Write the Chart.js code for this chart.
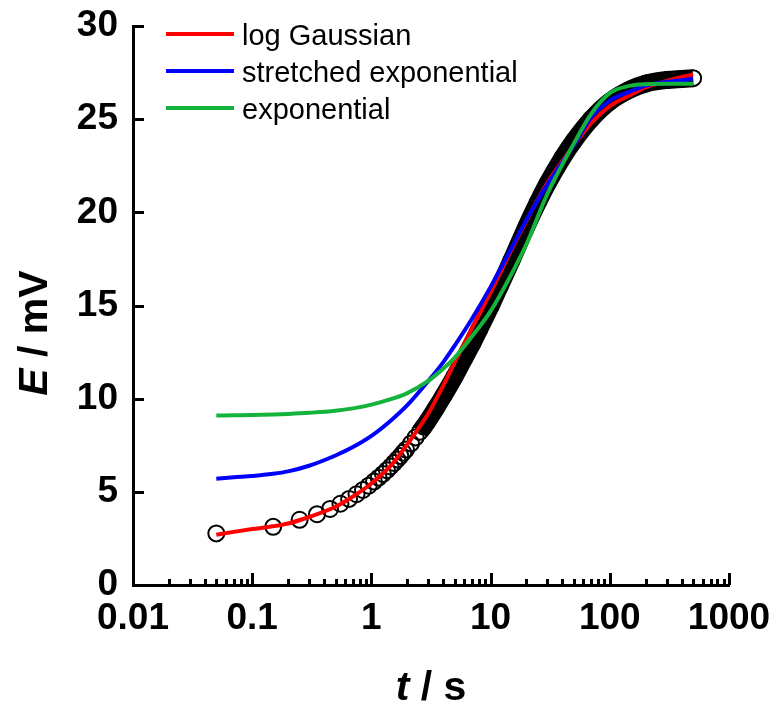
<!DOCTYPE html>
<html>
<head>
<meta charset="utf-8">
<script src="https://cdn.jsdelivr.net/npm/chart.js@4.4.1/dist/chart.umd.min.js"></script>
<style>
html,body{margin:0;padding:0;background:#fff;}
#wrap{width:776px;height:703px;}
</style>
</head>
<body>
<div id="wrap"><canvas id="myChart" width="776" height="703"></canvas></div>
<script>
// measured transient, t in s, E in mV
var tData = [0.05,0.15,0.25,0.35,0.45,0.55,0.65,0.75,0.85,0.95,1.05,1.15,1.25,1.35,1.45,1.55,1.65,1.75,1.85,1.95,
	2.15,2.35,2.55,2.75,2.95,3.5,4,5,6,7,8,10,12,15,20,25,30,40,50,70,100,150,200,300,400,500];
var eData = [2.77,3.12,3.5,3.8,4.08,4.36,4.62,4.87,5.1,5.33,5.55,5.76,5.96,6.16,6.36,6.55,6.74,6.92,7.1,7.27,
	7.6,7.92,8.22,8.5,8.78,9.52,10.13,11.2,12.15,12.95,13.7,14.96,16.07,17.43,19.24,20.55,21.54,22.92,23.84,25.01,25.94,26.61,26.91,27.1,27.16,27.2];

// fits
var tFit = [0.05,0.07,0.1,0.15,0.2,0.3,0.5,0.7,1,1.5,2,3,4,5,7,10,15,20,30,50,70,100,150,200,300,500];
var eLogGauss = [2.7,2.85,3.0,3.15,3.3,3.65,4.2,4.75,5.45,6.5,7.55,9.2,10.7,11.95,13.8,15.7,18.0,19.55,21.6,23.6,24.8,25.7,26.3,26.7,27.05,27.4];
var eStretched = [5.7,5.78,5.85,5.97,6.1,6.4,6.95,7.4,8.0,8.9,9.65,10.95,11.95,12.85,14.3,16.0,18.1,19.6,21.5,23.6,25.1,26.0,26.5,26.8,27.0,27.15];
var eExp = [9.1,9.11,9.12,9.15,9.18,9.24,9.35,9.48,9.68,10.0,10.3,10.95,11.6,12.2,13.35,14.7,16.7,18.3,21.0,23.7,25.3,26.4,26.8,26.88,26.9,26.9];

var xTicks = [0.01,0.02,0.03,0.04,0.05,0.06,0.07,0.08,0.09,0.1,0.2,0.3,0.4,0.5,0.6,0.7,0.8,0.9,1,2,3,4,5,6,7,8,9,
	10,20,30,40,50,60,70,80,90,100,200,300,400,500,600,700,800,900,1000];
var xLabels = [0.01,0.1,1,10,100,1000];

var FONT = "'Liberation Sans', Arial, sans-serif";

function pts(xs, ys) {
	var out = [];
	for (var i = 0; i < xs.length; i++) out.push({x: xs[i], y: ys[i]});
	return out;
}

var extras = {
	id: 'extras',
	afterDraw: function(chart) {
		var ctx = chart.ctx, a = chart.chartArea;
		var xs = chart.scales.x, ys = chart.scales.y;
		ctx.save();
		// inward ticks
		ctx.strokeStyle = '#000';
		ctx.lineWidth = 3;
		ys.ticks.forEach(function(t) {
			var py = Math.round(ys.getPixelForValue(t.value)) + 0.5;
			var len = (t.value % 5 === 0) ? 11 : 6;
			ctx.beginPath(); ctx.moveTo(a.left, py); ctx.lineTo(a.left + len, py); ctx.stroke();
		});
		xs.ticks.forEach(function(t) {
			var px = Math.round(xs.getPixelForValue(t.value)) + 0.5;
			var len = (xLabels.indexOf(t.value) >= 0) ? 12 : 6;
			ctx.beginPath(); ctx.moveTo(px, a.bottom); ctx.lineTo(px, a.bottom - len); ctx.stroke();
		});

		// axis titles
		ctx.fillStyle = '#000';
		ctx.textBaseline = 'alphabetic';
		ctx.textAlign = 'left';
		var it = 'italic bold 41px ' + FONT, bd = 'bold 41px ' + FONT;
		function mixed(parts, cx, cy) {
			var w = 0;
			parts.forEach(function(p) { ctx.font = p[1]; w += ctx.measureText(p[0]).width; });
			var x = cx - w / 2;
			parts.forEach(function(p) { ctx.font = p[1]; ctx.fillText(p[0], x, cy); x += ctx.measureText(p[0]).width; });
		}
		mixed([['t', it], [' / s', bd]], 431, 700);
		ctx.save();
		ctx.translate(47, 333);
		ctx.rotate(-Math.PI / 2);
		mixed([['E', it], [' / mV', bd]], 0, 0);
		ctx.restore();

		// legend
		var row = 0;
		ctx.font = '29px ' + FONT;
		chart.data.datasets.forEach(function(ds) {
			if (!ds.inLegend) return;
			var y = 34 + row * 37;
			ctx.strokeStyle = ds.borderColor;
			ctx.lineWidth = 4;
			ctx.beginPath(); ctx.moveTo(166, y); ctx.lineTo(234, y); ctx.stroke();
			ctx.fillText(ds.label, 242, y + 11);
			row++;
		});
		ctx.restore();
	}
};

function noPad(s) {
	s.paddingTop = 0; s.paddingBottom = 0; s.paddingLeft = 0; s.paddingRight = 0;
}

var ctx = document.getElementById('myChart').getContext('2d');
var chart = new Chart(ctx, {
	type: 'scatter',
	data: {
		datasets: [
			{
				label: 'data',
				data: pts(tData, eData),
				showLine: true,
				borderWidth: 18,
				borderColor: '#000',
				cubicInterpolationMode: 'monotone',
				segment: {
					borderColor: function(c) { return c.p0.parsed.x >= 2.5 ? '#000' : 'rgba(0,0,0,0)'; }
				},
				pointRadius: 8,
				pointBorderWidth: 2,
				pointBorderColor: '#000',
				pointBackgroundColor: 'rgba(0,0,0,0)',
				order: 4
			},
			{
				label: 'log Gaussian',
				inLegend: true,
				data: pts(tFit, eLogGauss),
				showLine: true,
				borderColor: '#ff0000',
				borderWidth: 4,
				pointRadius: 0,
				cubicInterpolationMode: 'monotone',
				order: 3
			},
			{
				label: 'stretched exponential',
				inLegend: true,
				data: pts(tFit, eStretched),
				showLine: true,
				borderColor: '#0000ff',
				borderWidth: 4,
				pointRadius: 0,
				cubicInterpolationMode: 'monotone',
				order: 2
			},
			{
				label: 'exponential',
				inLegend: true,
				data: pts(tFit, eExp),
				showLine: true,
				borderColor: '#14b33c',
				borderWidth: 4,
				pointRadius: 0,
				cubicInterpolationMode: 'monotone',
				order: 1
			}
		]
	},
	options: {
		responsive: false,
		animation: false,
		devicePixelRatio: 1,
		layout: {padding: {left: 0, top: 26, right: 47, bottom: 0}},
		plugins: {legend: {display: false}, tooltip: {enabled: false}},
		scales: {
			x: {
				type: 'logarithmic',
				min: 0.01,
				max: 1000,
				afterBuildTicks: function(s) { s.ticks = xTicks.map(function(v) { return {value: v}; }); },
				afterFit: function(s) { s.height = 118; noPad(s); },
				grid: {drawOnChartArea: false, drawTicks: false},
				border: {display: true, color: '#000', width: 3},
				ticks: {
					autoSkip: false,
					maxRotation: 0,
					padding: 12,
					color: '#000',
					font: {family: FONT, size: 37, weight: 'bold'},
					callback: function(v) { return xLabels.indexOf(v) >= 0 ? String(v) : ''; }
				}
			},
			y: {
				min: 0,
				max: 30,
				afterFit: function(s) { s.width = 133; noPad(s); },
				grid: {drawOnChartArea: false, drawTicks: false},
				border: {display: true, color: '#000', width: 3},
				ticks: {
					stepSize: 2.5,
					padding: 15,
					color: '#000',
					font: {family: FONT, size: 37, weight: 'bold'},
					callback: function(v) { return v % 5 === 0 ? String(v) : ''; }
				}
			}
		}
	},
	plugins: [extras]
});
</script>
</body>
</html>
